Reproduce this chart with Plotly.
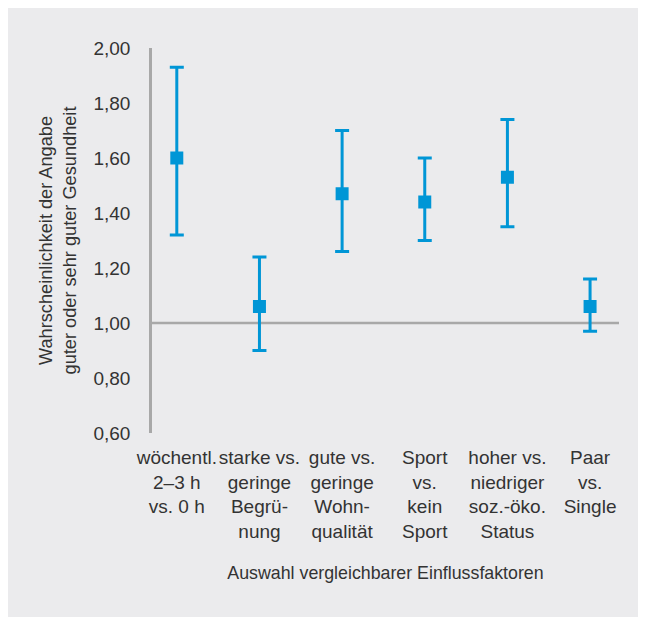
import plotly.graph_objects as go

categories = [
    "wöchentl.<br>2–3 h<br>vs. 0 h",
    "starke vs.<br>geringe<br>Begrü-<br>nung",
    "gute vs.<br>geringe<br>Wohn-<br>qualität",
    "Sport<br>vs.<br>kein<br>Sport",
    "hoher vs.<br>niedriger<br>soz.-öko.<br>Status",
    "Paar<br>vs.<br>Single",
]
estimate = [1.60, 1.06, 1.47, 1.44, 1.53, 1.06]
upper = [1.93, 1.24, 1.70, 1.60, 1.74, 1.16]
lower = [1.32, 0.90, 1.26, 1.30, 1.35, 0.97]
y_ticks = [0.6, 0.8, 1.0, 1.2, 1.4, 1.6, 1.8, 2.0]
y_ticktext = ["0,60", "0,80", "1,00", "1,20", "1,40", "1,60", "1,80", "2,00"]
reference_value = 1.0

err_plus = [u - e for u, e in zip(upper, estimate)]
err_minus = [e - l for e, l in zip(estimate, lower)]

BLUE = "#0096d6"
GREY = "#a8a8a8"
TEXT = "#333333"
BG = "#ebebed"
FONT = "Liberation Sans"

fig = go.Figure()
fig.add_trace(go.Scatter(
    x=categories, y=estimate, mode="markers",
    marker=dict(symbol="square", size=13, color=BLUE),
    error_y=dict(type="data", symmetric=False, array=err_plus, arrayminus=err_minus,
                 color=BLUE, thickness=3, width=7),
    showlegend=False, cliponaxis=False,
))

fig.add_hline(y=reference_value, line=dict(color=GREY, width=2.5), layer="below")

fig.update_layout(
    width=638, height=609,
    margin=dict(l=144, r=27, t=40, b=184, pad=0),
    paper_bgcolor=BG,
    plot_bgcolor=BG,
    font=dict(family=FONT, size=19, color=TEXT),
    xaxis=dict(
        range=[-0.3, 5.35], showgrid=False, zeroline=False, showline=False,
        ticks="", tickangle=0, ticklabelstandoff=11, tickfont=dict(size=19, color=TEXT),
        title=dict(text="Auswahl vergleichbarer Einflussfaktoren", font=dict(size=17.8, color=TEXT), standoff=25),
    ),
    yaxis=dict(
        range=[0.6, 2.0], tickvals=y_ticks, ticktext=y_ticktext,
        showgrid=False, zeroline=False, showline=True, linecolor=GREY, linewidth=2.5,
        ticks="", ticklabelstandoff=15, tickfont=dict(size=19, color=TEXT),
        title=dict(text="Wahrscheinlichkeit der Angabe<br>guter oder sehr guter Gesundheit",
                   font=dict(size=18.2, color=TEXT), standoff=13),
    ),
)

fig.write_html("out.html")
